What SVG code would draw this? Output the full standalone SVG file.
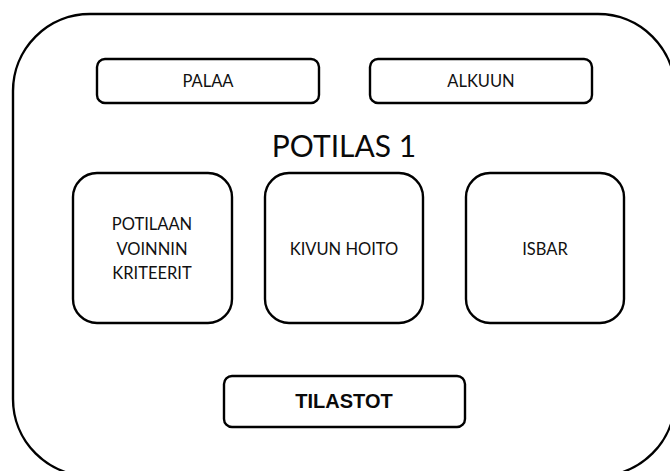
<svg xmlns="http://www.w3.org/2000/svg" width="670" height="471" viewBox="0 0 670 471">
  <style>
    .frame { fill: #ffffff; stroke: #000000; stroke-width: 2.4; }
    .btn { fill: #ffffff; stroke: #000000; stroke-width: 2.4; }
    .lbl { font-family: Lato, "Open Sans", sans-serif; font-size: 16.5px; fill: #111111; text-anchor: middle; }
    .title { font-family: Lato, "Open Sans", sans-serif; font-size: 30px; fill: #0a0a0a; text-anchor: middle; }
    .bold { font-family: "Liberation Sans", Arial, sans-serif; font-size: 20px; font-weight: bold; fill: #0a0a0a; text-anchor: middle; }
  </style>
  <rect width="670" height="471" fill="#ffffff"/>

  <!-- patient screen frame -->
  <g id="screen">
    <rect class="frame" x="13" y="14" width="662" height="462" rx="77" ry="77"/>
    <text class="title" x="344" y="157">POTILAS 1</text>
  </g>

  <g id="palaa">
    <rect class="btn" x="97" y="59" width="222" height="44" rx="8"/>
    <text class="lbl" x="208" y="87">PALAA</text>
  </g>

  <g id="alkuun">
    <rect class="btn" x="370" y="59" width="222" height="44" rx="8"/>
    <text class="lbl" x="481" y="87">ALKUUN</text>
  </g>

  <g id="kriteerit">
    <rect class="btn" x="73" y="173" width="159" height="150" rx="24"/>
    <text class="lbl" x="152" y="230">POTILAAN</text>
    <text class="lbl" x="152" y="255">VOINNIN</text>
    <text class="lbl" x="152" y="279">KRITEERIT</text>
  </g>

  <g id="kivun-hoito">
    <rect class="btn" x="265" y="173" width="158" height="150" rx="24"/>
    <text class="lbl" x="344" y="255">KIVUN HOITO</text>
  </g>

  <g id="isbar">
    <rect class="btn" x="466" y="173" width="158" height="150" rx="24"/>
    <text class="lbl" x="545" y="255">ISBAR</text>
  </g>

  <g id="tilastot">
    <rect class="btn" x="224" y="376" width="241" height="51" rx="8"/>
    <text class="bold" x="344" y="408">TILASTOT</text>
  </g>

  <g id="connectors"></g>
</svg>
